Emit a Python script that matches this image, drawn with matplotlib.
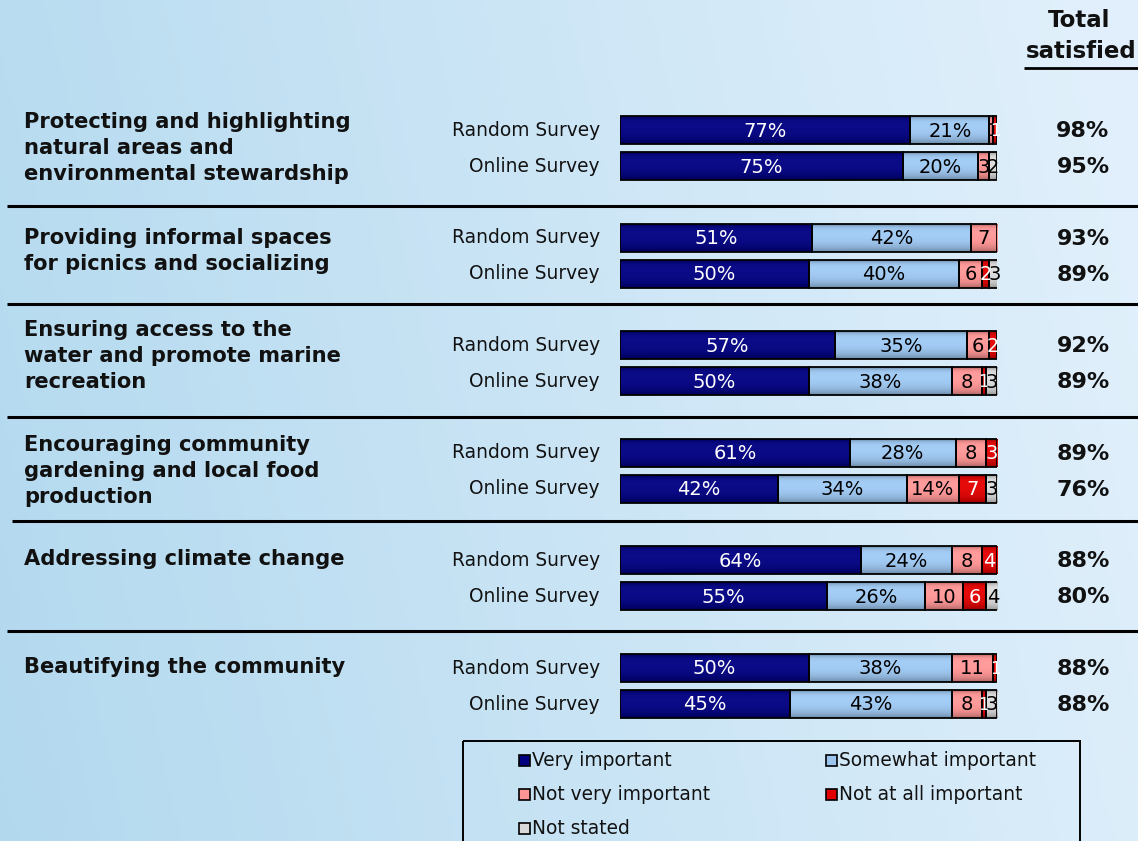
import numpy as np
import matplotlib.pyplot as plt
from matplotlib.patches import Rectangle

# Data
categories = [
    "Protecting and highlighting\nnatural areas and\nenvironmental stewardship",
    "Providing informal spaces\nfor picnics and socializing",
    "Ensuring access to the\nwater and promote marine\nrecreation",
    "Encouraging community\ngardening and local food\nproduction",
    "Addressing climate change",
    "Beautifying the community",
]
surveys = ["Random Survey", "Online Survey"]
levels = ["Very important", "Somewhat important", "Not very important",
          "Not at all important", "Not stated"]

# one row per (category, survey) in the order above
very_important = [77, 75, 51, 50, 57, 50, 61, 42, 64, 55, 50, 45]
somewhat_important = [21, 20, 42, 40, 35, 38, 28, 34, 24, 26, 38, 43]
not_very_important = [1, 3, 7, 6, 6, 8, 8, 14, 8, 10, 11, 8]
not_at_all_important = [1, 0, 0, 2, 2, 1, 3, 7, 4, 6, 1, 1]
not_stated = [0, 2, 0, 3, 0, 3, 0, 3, 0, 4, 0, 3]
total_satisfied = [98, 95, 93, 89, 92, 89, 89, 76, 88, 80, 88, 88]

series = [very_important, somewhat_important, not_very_important,
          not_at_all_important, not_stated]
colors = ["#000080", "#9cc6f0", "#ff9494", "#e00000", "#d9d9d9"]
text_colors = ["white", "black", "black", "white", "black"]

# Layout (pixels)
W, H = 1138, 841
ROW0, STEP, PAIR = 130, 107.6, 36
BAR_H = 28
BAR_X0, BAR_X1 = 620, 997
LABEL_Y = [148, 251, 356, 471, 559, 667]
SEP_Y = [206, 304, 417, 521, 631]
SEP_X0 = [7, 7, 7, 12, 7]
FONT = "DejaVu Sans"

fig = plt.figure(figsize=(W / 100, H / 100), dpi=100)

# background gradient
ax = fig.add_axes([0, 0, 1, 1])
ax.set_xlim(0, W)
ax.set_ylim(H, 0)
ax.axis("off")
gx = np.linspace(0, 1, 256)
gy = np.linspace(0, 1, 64)
GX, GY = np.meshgrid(gx, gy)
left = np.array([0.70, 0.85, 0.935])
right = np.array([0.88, 0.94, 0.985])
mix = np.clip(GX * 0.9 + (1 - GY) * 0.15, 0, 1)[..., None]
bg = left * (1 - mix) + right * mix
ax.imshow(bg, extent=(0, W, H, 0), aspect="auto", zorder=0)

# bars
bx = fig.add_axes([BAR_X0 / W, 0, (BAR_X1 - BAR_X0) / W, 1])
bx.set_xlim(0, 100)
bx.set_ylim(H, 0)
bx.axis("off")
bx.patch.set_visible(False)

y_pos = []
for i in range(len(categories)):
    y_pos += [ROW0 + i * STEP, ROW0 + i * STEP + PAIR]
y_pos = np.array(y_pos)


def shaded(rgb, n=48):
    t = np.linspace(0, 1, n)
    f = 1 - 0.55 * np.exp(-t / 0.08) - 0.5 * np.exp(-(1 - t) / 0.22)
    base = np.array(plt.matplotlib.colors.to_rgb(rgb))
    img = base[None, :] * (0.4 + 0.6 * f[:, None]) + 0.12 * np.clip(f[:, None] - 0.6, 0, 1)
    return np.clip(img, 0, 1)[:, None, :]


lefts = np.zeros(len(y_pos))
for s, vals in enumerate(series):
    vals = np.array(vals, dtype=float)
    bars = bx.barh(y_pos, vals, left=lefts, height=BAR_H, facecolor="none",
                   edgecolor="black", linewidth=1.3, zorder=3)
    img = shaded(colors[s])
    for b, v in zip(bars, vals):
        if v <= 0:
            b.set_visible(False)
            continue
        x0, y0 = b.get_x(), b.get_y()
        bx.imshow(img, extent=(x0, x0 + b.get_width(), y0 + BAR_H, y0),
                  origin="upper", aspect="auto", zorder=2, interpolation="bilinear")
        lab = f"{int(v)}%" if v >= 12 else f"{int(v)}"
        bx.text(x0 + b.get_width() / 2, y0 + BAR_H / 2 + 1, lab, ha="center", va="center",
                color=text_colors[s], fontsize=14 if v > 1 else 12, family=FONT, zorder=4)
    lefts += vals
bx.set_xlim(0, 100)
bx.set_ylim(H, 0)

# survey labels and totals
for k, y in enumerate(y_pos):
    ax.text(600, y, surveys[k % 2], ha="right", va="center", fontsize=13.4,
            family=FONT, color="#111111")
    ax.text(1083, y + 1, f"{total_satisfied[k]}%", ha="center", va="center",
            fontsize=16, fontweight="bold", family=FONT, color="#111111")

# category labels
for cat, y in zip(categories, LABEL_Y):
    ax.text(24, y, cat, ha="left", va="center", fontsize=15.1, fontweight="bold",
            family=FONT, linespacing=1.4, color="#111111")

# separators
for y, x0 in zip(SEP_Y, SEP_X0):
    ax.plot([x0, W], [y, y], color="black", lw=2.2, zorder=3, solid_capstyle="butt")

# header
ax.text(1079, 20, "Total", ha="center", va="center", fontsize=16.5,
        fontweight="bold", family=FONT, color="#111111")
ax.text(1081, 51, "satisfied", ha="center", va="center", fontsize=16.5,
        fontweight="bold", family=FONT, color="#111111")
ax.plot([1024, W], [68, 68], color="black", lw=2, solid_capstyle="butt")

# legend
ax.add_patch(Rectangle((463, 741), 617, 120, facecolor="none", edgecolor="black",
                       lw=1.4, zorder=3))
leg_pos = [(519, 760), (826, 760), (519, 794), (826, 794), (519, 828)]
for (lx, ly), name, c in zip(leg_pos, levels, colors):
    ax.add_patch(Rectangle((lx, ly - 5.5), 11, 11, facecolor=c, edgecolor="black",
                           lw=1.2, zorder=3))
    ax.text(lx + 13, ly, name, ha="left", va="center", fontsize=13.4,
            family=FONT, color="#111111")

fig.savefig("out.png", dpi=100)
